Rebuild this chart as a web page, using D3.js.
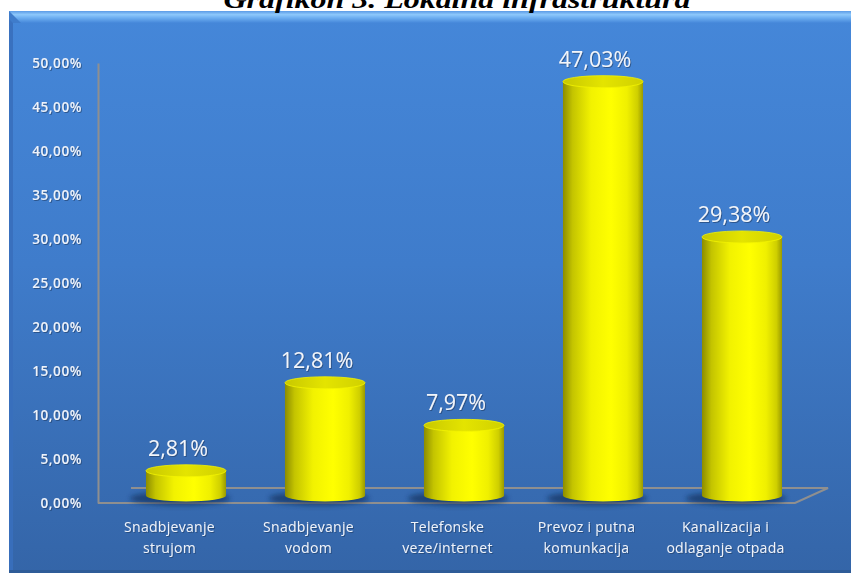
<!DOCTYPE html>
<html>
<head>
<meta charset="utf-8">
<script src="https://cdn.jsdelivr.net/npm/d3@7/dist/d3.min.js"></script>
<style>
  html, body { margin: 0; padding: 0; background: #ffffff; }
  svg { display: block; }
</style>
</head>
<body>
<svg id="chart" width="851" height="576"></svg>
<script>
// ---- Data ----
const title = "Grafikon 3. Lokalna infrastruktura";
const categories = ["Snadbjevanje strujom", "Snadbjevanje vodom", "Telefonske veze/internet", "Prevoz i putna komunkacija", "Kanalizacija i odlaganje otpada"];
const categoryLines = [["Snadbjevanje", "strujom"], ["Snadbjevanje", "vodom"], ["Telefonske", "veze/internet"], ["Prevoz i putna", "komunkacija"], ["Kanalizacija i", "odlaganje otpada"]];
const values = [2.81, 12.81, 7.97, 47.03, 29.38];
const yTicks = [0, 5, 10, 15, 20, 25, 30, 35, 40, 45, 50];

// ---- Setup ----
const svg = d3.select("#chart");
const W = 851, H = 576;
const defs = svg.append("defs");

const bgGrad = defs.append("linearGradient").attr("id", "bg").attr("x1", 0).attr("y1", 0).attr("x2", 0).attr("y2", 1);
[[0, "#4587d9"], [0.45, "#3f7ccb"], [1, "#3465a8"]].forEach(s => bgGrad.append("stop").attr("offset", s[0]).attr("stop-color", s[1]));

const topGrad = defs.append("linearGradient").attr("id", "topbev").attr("x1", 0).attr("y1", 0).attr("x2", 0).attr("y2", 1);
[[0, "#5b9be6"], [0.3, "#8dc8fb"], [0.55, "#6fb0f2"], [1, "#4587d9"]].forEach(s => topGrad.append("stop").attr("offset", s[0]).attr("stop-color", s[1]));

const cylGrad = defs.append("linearGradient").attr("id", "cyl").attr("x1", 0).attr("y1", 0).attr("x2", 1).attr("y2", 0);
[[0, "#8c8c00"], [0.12, "#c4c400"], [0.35, "#f2f200"], [0.6, "#ffff00"], [0.8, "#f0f000"], [0.93, "#cfcf00"], [1, "#9a9a00"]].forEach(s => cylGrad.append("stop").attr("offset", s[0]).attr("stop-color", s[1]));

const capGrad = defs.append("linearGradient").attr("id", "cap").attr("x1", 0).attr("y1", 0).attr("x2", 1).attr("y2", 0);
[[0, "#c8c800"], [0.5, "#e4e400"], [1, "#d0d000"]].forEach(s => capGrad.append("stop").attr("offset", s[0]).attr("stop-color", s[1]));

const blur = defs.append("filter").attr("id", "blur").attr("x", "-30%").attr("y", "-100%").attr("width", "160%").attr("height", "300%");
blur.append("feGaussianBlur").attr("stdDeviation", 2.5);

const tshadow = defs.append("filter").attr("id", "tsh").attr("x", "-10%").attr("y", "-20%").attr("width", "130%").attr("height", "150%");
tshadow.append("feDropShadow").attr("dx", 1).attr("dy", 1).attr("stdDeviation", 0.6).attr("flood-color", "#1c3a66").attr("flood-opacity", 0.6);

// ---- Panel ----
const px = 9, py = 11;
svg.append("rect").attr("x", px).attr("y", py).attr("width", W - px).attr("height", 562).attr("fill", "url(#bg)");
svg.append("rect").attr("x", px).attr("y", py).attr("width", W - px).attr("height", 12).attr("fill", "url(#topbev)");
svg.append("rect").attr("x", px).attr("y", py + 4).attr("width", 4).attr("height", 558).attr("fill", "#386fbc").attr("opacity", 0.9);
svg.append("path").attr("d", `M${px},${py} L${px + 12},${py + 12} L${px + 4},${py + 12} L${px},${py + 8} Z`).attr("fill", "#3f7ccb");
svg.append("rect").attr("x", px).attr("y", 570).attr("width", W - px).attr("height", 3).attr("fill", "#2f5c98");

// ---- Title (clipped at top) ----
svg.append("text").attr("x", 457).attr("y", 8)
  .attr("text-anchor", "middle")
  .attr("font-family", "'Liberation Serif', 'DejaVu Serif', serif")
  .attr("font-weight", "bold").attr("font-style", "italic")
  .attr("font-size", 25)
  .attr("textLength", 467).attr("lengthAdjust", "spacingAndGlyphs")
  .attr("fill", "#000").text(title);

// ---- Scales ----
const x = d3.scaleBand().domain(categories).range([100, 795]).paddingInner(0.424).paddingOuter(0.212);
const y = d3.scaleLinear().domain([0, 50]).range([503, 63]);
const DX = 33, DY = -15; // floor depth
const MX = DX / 2, MY = DY / 2; // bar mid-plane

// ---- Floor ----
const f0 = y(0);
svg.append("path")
  .attr("d", `M98,${f0} L${x.range()[1]},${f0} L${x.range()[1] + DX},${f0 + DY} L${98 + DX},${f0 + DY}`)
  .attr("fill", "none").attr("stroke", "#8f8f8f").attr("stroke-width", 2);

// ---- Axis ----
const fmt = v => d3.format(".2f")(v).replace(".", ",") + "%";
const axis = svg.append("g").attr("transform", "translate(98,0)")
  .call(d3.axisLeft(y).tickValues(yTicks).tickSize(0).tickSizeOuter(0).tickPadding(16).tickFormat(fmt));
axis.select(".domain").attr("stroke", "#8f8f8f").attr("stroke-width", 2);
axis.selectAll("text")
  .attr("fill", "#eef3fb")
  .attr("font-family", "'Open Sans', sans-serif")
  .attr("font-size", 13.5)
  .attr("letter-spacing", 0.6)
  .attr("font-weight", 600)
  .attr("filter", "url(#tsh)");

// ---- Bars (cylinders) ----
const bw = x.bandwidth();
const rx = bw / 2, ry = 6;
const bars = svg.append("g").selectAll("g").data(values).join("g");

bars.append("ellipse")
  .attr("cx", (d, i) => x(categories[i]) + bw / 2 + MX - 6)
  .attr("cy", y(0) + MY + 3)
  .attr("rx", rx + 10).attr("ry", 7)
  .attr("fill", "#0f2a52").attr("opacity", 0.6).attr("filter", "url(#blur)");

bars.append("path")
  .attr("d", (d, i) => {
    const x0 = x(categories[i]) + MX, x1 = x0 + bw;
    const top = y(d) + MY, base = y(0) + MY;
    return `M${x0},${top} L${x0},${base} A${rx},${ry} 0 0 0 ${x1},${base} L${x1},${top} Z`;
  })
  .attr("fill", "url(#cyl)");

bars.append("ellipse")
  .attr("cx", (d, i) => x(categories[i]) + bw / 2 + MX)
  .attr("cy", d => y(d) + MY)
  .attr("rx", rx).attr("ry", ry)
  .attr("fill", "url(#cap)")
  .attr("stroke", "#f4f400").attr("stroke-width", 0.8);

// ---- Value labels ----
bars.append("text")
  .attr("x", (d, i) => x(categories[i]) + bw / 2 + MX - 8)
  .attr("y", d => y(d) + MY - 15)
  .attr("text-anchor", "middle")
  .attr("font-family", "'Open Sans', sans-serif")
  .attr("font-size", 21.5)
  .attr("fill", "#f2f5fa")
  .attr("filter", "url(#tsh)")
  .text(d => d3.format(".2f")(d).replace(".", ",") + "%");

// ---- Category labels ----
const cat = svg.append("g").selectAll("text").data(categoryLines).join("text")
  .attr("x", (d, i) => x(categories[i]) + bw / 2)
  .attr("y", 532)
  .attr("text-anchor", "middle")
  .attr("font-family", "'Open Sans', sans-serif")
  .attr("font-size", 14)
  .attr("letter-spacing", 0.3)
  .attr("fill", "#eef3fb")
  .attr("filter", "url(#tsh)");
cat.selectAll("tspan").data(d => d).join("tspan")
  .attr("x", function() { return d3.select(this.parentNode).attr("x"); })
  .attr("dy", (d, j) => j === 0 ? 0 : 21)
  .text(d => d);
</script>
</body>
</html>
